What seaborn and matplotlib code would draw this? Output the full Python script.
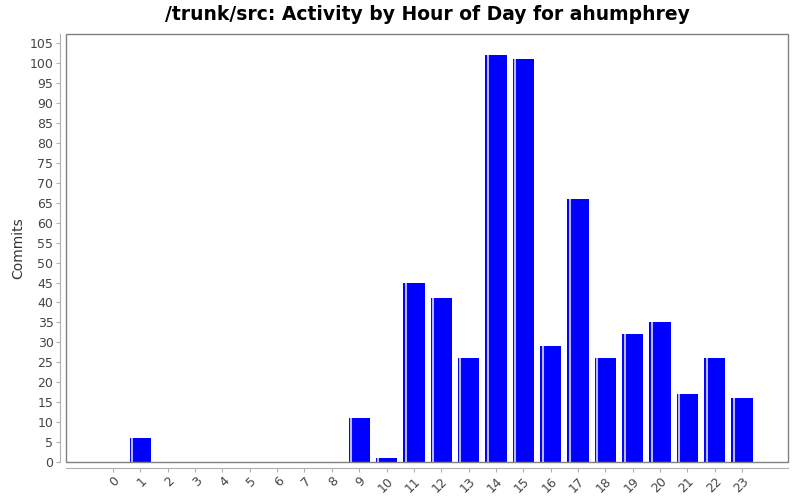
import matplotlib
matplotlib.use("Agg")
import matplotlib.pyplot as plt
import seaborn as sns
import pandas as pd
from matplotlib.patches import Rectangle

hours = [str(h) for h in range(24)]
commits = [0, 6, 0, 0, 0, 0, 0, 0, 0, 11, 1, 45, 41, 26, 102, 101, 29, 66, 26, 32, 35, 17, 26, 16]

df = pd.DataFrame({'hour': hours, 'commits': commits})

sns.set_style('white')
plt.rcParams['font.family'] = ['DejaVu Sans']

fig = plt.figure(figsize=(8, 5), dpi=100)
ax = fig.add_axes([0.0825, 0.076, 0.9025, 0.856])
sns.barplot(data=df, x='hour', y='commits', order=hours, color='#0000ff',
            saturation=1, width=0.78, ax=ax, edgecolor='none')

# light stripe near the left edge of each bar
for p in list(ax.patches):
    if p.get_height() > 0:
        x0 = p.get_x() + p.get_width() * 0.12
        ax.plot([x0, x0], [0, p.get_height()], color='#b8b8ff', lw=1.5,
                solid_capstyle='butt')

ax.set_xlim(-1.72, 24.68)
ax.set_ylim(0, 107.3)
ax.set_yticks(range(0, 106, 5))
ax.set_xlabel('')
ax.set_ylabel('Commits', fontsize=10, color='#333333', labelpad=3)
ax.set_title('/trunk/src: Activity by Hour of Day for ahumphrey',
             fontsize=13.5, fontweight='bold', pad=10, color='black')

for s in ['top', 'right']:
    ax.spines[s].set_visible(False)
for s in ['left', 'bottom']:
    ax.spines[s].set_position(('outward', 4))
    ax.spines[s].set_color('#b0b0b0')
ax.add_patch(Rectangle((0, 0), 1, 1, transform=ax.transAxes, fill=False,
                       edgecolor='#808080', lw=1, clip_on=False))

ax.tick_params(axis='both', which='both', direction='out', length=3,
               color='#b0b0b0', labelsize=9, labelcolor='#444444',
               left=True, bottom=True, pad=2)
for lbl in ax.get_xticklabels():
    lbl.set_rotation(45)
    lbl.set_ha('right')
    lbl.set_rotation_mode('anchor')

fig.savefig('out.png', dpi=100)
